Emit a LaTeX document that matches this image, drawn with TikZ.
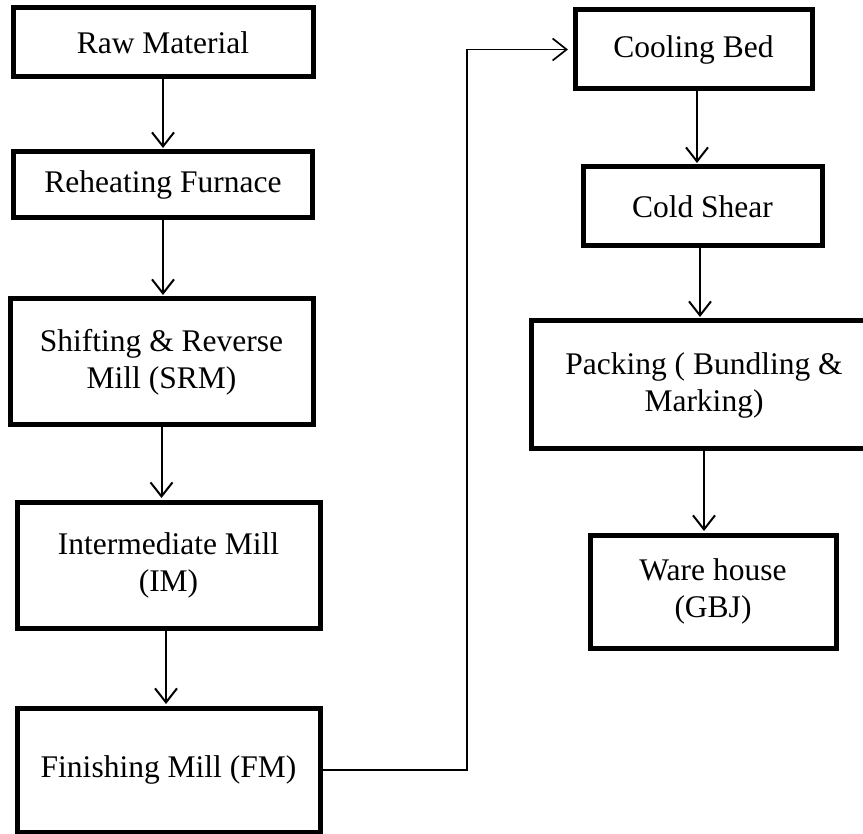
\documentclass[tikz,border=0pt]{standalone}
\usepackage{fontspec}
\setmainfont{Liberation Serif}
\usetikzlibrary{arrows.meta}
\tikzset{
  procbox/.style={draw=black, line width=5pt, fill=white, outer sep=0pt, inner sep=2pt,
    align=center, font=\fontsize{31.5}{37}\selectfont, text=black},
  arr/.style={draw=black, line width=2pt, -{Straight Barb[length=14pt,width=22pt]}, shorten >=4pt},
  jogarr/.style={draw=black, line width=1.7pt, -{Straight Barb[length=14pt,width=22pt]}, shorten >=7pt}
}
\begin{document}
\begin{tikzpicture}[x=1pt,y=-1pt]
\useasboundingbox (0,0) rectangle (863,834);
\clip (0,0) rectangle (863,834);
\fill[white] (0,0) rectangle (863,834);

\node[procbox, minimum width=300pt, minimum height=69pt] (raw) at (163,42.5) {Raw Material};
\node[procbox, minimum width=299pt, minimum height=66pt] (reheat) at (163,185) {Reheating Furnace};
\node[procbox, minimum width=303pt, minimum height=126pt] (srm) at (161.5,362) {Shifting \& Reverse\\Mill (SRM)};
\node[procbox, minimum width=303pt, minimum height=126pt] (im) at (168.5,565) {Intermediate Mill\\(IM)};
\node[procbox, minimum width=303pt, minimum height=124pt] (fm) at (168.5,770) {Finishing Mill (FM)};

\node[procbox, minimum width=237pt, minimum height=79pt] (cool) at (693.5,49.5) {Cooling Bed};
\node[procbox, minimum width=239pt, minimum height=79pt] (shear) at (702.5,206.5) {Cold Shear};
\node[procbox, minimum width=346pt, minimum height=128pt] (pack) at (704,385) {Packing ( Bundling \&\\Marking)};
\node[procbox, minimum width=246pt, minimum height=113pt] (ware) at (713,591.5) {Ware house\\(GBJ)};

\coordinate (jog) at (467,400);

\draw[arr] (raw.south) -- (raw.south |- reheat.north);
\draw[arr] (reheat.south) -- (reheat.south |- srm.north);
\draw[arr] (srm.south) -- (srm.south |- im.north);
\draw[arr] ([xshift=-2.5pt]im.south) -- ([xshift=-2.5pt]im.south |- fm.north);
\draw[jogarr] (fm.east) -| (jog) |- (cool.west);
\draw[arr] ([xshift=3.5pt]cool.south) -- ([xshift=3.5pt]cool.south |- shear.north);
\draw[arr] ([xshift=-2.5pt]shear.south) -- ([xshift=-2.5pt]shear.south |- pack.north);
\draw[arr] (pack.south) -- (pack.south |- ware.north);
\end{tikzpicture}
\end{document}
